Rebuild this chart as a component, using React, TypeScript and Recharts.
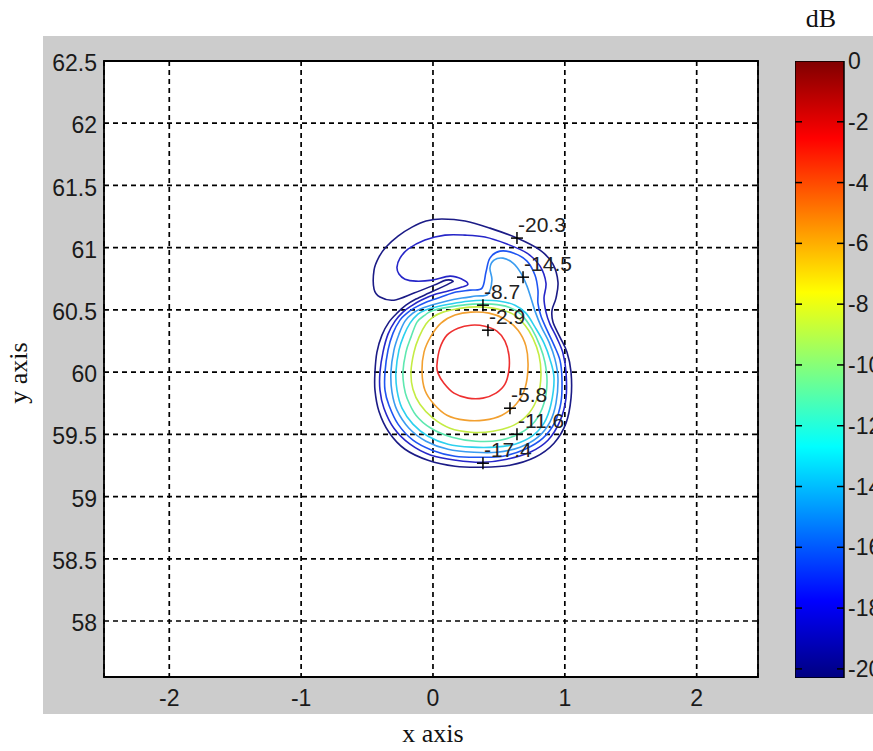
import React from 'react';
import {
  ComposedChart,
  Line,
  Scatter,
  XAxis,
  YAxis,
  CartesianGrid,
  ReferenceArea,
  BarChart,
  Bar,
} from 'recharts';

// ---------- axes ----------
const X_DOMAIN: [number, number] = [-2.495, 2.465];
const Y_DOMAIN: [number, number] = [57.55, 62.5];
const xTicks = [-2, -1, 0, 1, 2];
const yTicks = [58, 58.5, 59, 59.5, 60, 60.5, 61, 61.5, 62, 62.5];

// ---------- colour bar ----------
const CB_MIN = -20.3;
const cbTicks = [0, -2, -4, -6, -8, -10, -12, -14, -16, -18, -20];
const cbData = [{ name: 'dB', v: CB_MIN }];

// ---------- contour lines (x, y) ----------
const contourNavy: [number, number][] = [
  [-0.44, 60.0], [-0.44, 59.855], [-0.41, 59.686], [-0.334, 59.517], [-0.212, 59.38],
  [-0.038, 59.292], [0.167, 59.244], [0.379, 59.236], [0.584, 59.252], [0.774, 59.316],
  [0.918, 59.429], [1.009, 59.59], [1.047, 59.791], [1.047, 60.0], [1.016, 60.161],
  [0.963, 60.281], [0.91, 60.402], [0.903, 60.498], [0.933, 60.595], [0.948, 60.723],
  [0.91, 60.868], [0.812, 60.98], [0.637, 61.077], [0.432, 61.157], [0.243, 61.214],
  [0.068, 61.23], [-0.053, 61.214], [-0.159, 61.165], [-0.265, 61.093], [-0.356, 61.005],
  [-0.41, 60.924], [-0.447, 60.82], [-0.447, 60.667], [-0.402, 60.603], [-0.296, 60.578],
  [-0.144, 60.635], [0.008, 60.699], [0.099, 60.739], [0.152, 60.731], [0.129, 60.715],
  [0.068, 60.683], [-0.03, 60.635], [-0.129, 60.587], [-0.205, 60.538], [-0.265, 60.482],
  [-0.334, 60.402], [-0.387, 60.297], [-0.425, 60.161],
];
const contourDarkBlue: [number, number][] = [
  [0.265, 60.707], [0.22, 60.683], [0.144, 60.659], [0.023, 60.627], [-0.091, 60.578],
  [-0.167, 60.53], [-0.228, 60.482], [-0.288, 60.41], [-0.341, 60.305], [-0.379, 60.161],
  [-0.402, 60.0], [-0.402, 59.855], [-0.372, 59.71], [-0.296, 59.549], [-0.174, 59.421],
  [-0.015, 59.332], [0.174, 59.292], [0.379, 59.276], [0.561, 59.3], [0.736, 59.356],
  [0.872, 59.453], [0.963, 59.606], [1.009, 59.791], [1.009, 60.0], [0.986, 60.152],
  [0.94, 60.273], [0.887, 60.386], [0.857, 60.482], [0.842, 60.595], [0.857, 60.715],
  [0.812, 60.852], [0.713, 60.956], [0.561, 61.029], [0.394, 61.085], [0.243, 61.101],
  [0.091, 61.101], [-0.061, 61.061], [-0.19, 60.988], [-0.25, 60.916], [-0.273, 60.844],
  [-0.258, 60.788], [-0.212, 60.747], [-0.129, 60.731], [-0.008, 60.739], [0.129, 60.771],
  [0.22, 60.747],
];
const contourBlue: [number, number][] = [
  [-0.364, 60.0], [-0.341, 60.177], [-0.303, 60.313], [-0.25, 60.418], [-0.197, 60.474],
  [-0.144, 60.514], [-0.053, 60.562], [0.061, 60.603], [0.174, 60.643], [0.281, 60.659],
  [0.372, 60.675], [0.402, 60.804], [0.432, 60.916], [0.508, 60.972], [0.614, 60.956],
  [0.713, 60.892], [0.774, 60.779], [0.796, 60.659], [0.796, 60.554], [0.819, 60.45],
  [0.865, 60.337], [0.918, 60.217], [0.963, 60.096], [0.978, 59.951], [0.971, 59.758],
  [0.925, 59.598], [0.834, 59.469], [0.698, 59.38], [0.531, 59.324], [0.356, 59.316],
  [0.167, 59.324], [-0.008, 59.373], [-0.152, 59.453], [-0.265, 59.582], [-0.334, 59.734],
  [-0.364, 59.855],
];
const contourSky: [number, number][] = [
  [-0.319, 60.0], [-0.296, 60.177], [-0.258, 60.305], [-0.212, 60.41], [-0.152, 60.474],
  [-0.099, 60.506], [-0.015, 60.538], [0.099, 60.57], [0.22, 60.595], [0.326, 60.611],
  [0.417, 60.627], [0.447, 60.739], [0.432, 60.836], [0.463, 60.9], [0.531, 60.916],
  [0.607, 60.876], [0.667, 60.796], [0.713, 60.691], [0.743, 60.595], [0.774, 60.49],
  [0.819, 60.369], [0.88, 60.241], [0.925, 60.104], [0.948, 59.951], [0.933, 59.75],
  [0.887, 59.598], [0.796, 59.477], [0.66, 59.397], [0.485, 59.356], [0.311, 59.356],
  [0.114, 59.38], [-0.053, 59.445], [-0.182, 59.549], [-0.273, 59.694], [-0.311, 59.839],
];
const contourCyan: [number, number][] = [
  [-0.281, 60.0], [-0.258, 60.177], [-0.22, 60.297], [-0.174, 60.394], [-0.114, 60.466],
  [-0.061, 60.498], [0.03, 60.526], [0.144, 60.55], [0.265, 60.57], [0.379, 60.578],
  [0.508, 60.57], [0.622, 60.538], [0.705, 60.474], [0.774, 60.361], [0.842, 60.233],
  [0.887, 60.104], [0.918, 59.951], [0.895, 59.742], [0.842, 59.59], [0.751, 59.485],
  [0.622, 59.421], [0.47, 59.397], [0.296, 59.397], [0.114, 59.421], [-0.038, 59.485],
  [-0.152, 59.582], [-0.235, 59.71], [-0.273, 59.855],
];
const contourAqua: [number, number][] = [
  [-0.228, 60.0], [-0.205, 60.161], [-0.167, 60.281], [-0.121, 60.402], [-0.061, 60.458],
  [-0.015, 60.49], [0.076, 60.514], [0.19, 60.534], [0.303, 60.546], [0.447, 60.546],
  [0.576, 60.522], [0.667, 60.466], [0.751, 60.345], [0.812, 60.209], [0.849, 60.08],
  [0.865, 59.919], [0.842, 59.75], [0.774, 59.606], [0.66, 59.509], [0.508, 59.453],
  [0.326, 59.445], [0.144, 59.477], [-0.015, 59.549], [-0.129, 59.654], [-0.197, 59.791],
  [-0.22, 59.887],
];
const contourYellow: [number, number][] = [
  [-0.167, 60.0], [-0.144, 60.161], [-0.106, 60.281], [-0.053, 60.386], [0.0, 60.442],
  [0.076, 60.482], [0.174, 60.506], [0.281, 60.522], [0.387, 60.522], [0.493, 60.506],
  [0.607, 60.466], [0.698, 60.377], [0.758, 60.273], [0.804, 60.136], [0.819, 59.976],
  [0.796, 59.807], [0.728, 59.67], [0.614, 59.574], [0.455, 59.525], [0.288, 59.517],
  [0.129, 59.549], [0.0, 59.63], [-0.099, 59.742], [-0.152, 59.863],
];
const contourOrange: [number, number][] = [
  [-0.083, 60.0], [-0.068, 60.161], [-0.015, 60.289], [0.061, 60.394], [0.167, 60.458],
  [0.288, 60.482], [0.425, 60.474], [0.546, 60.426], [0.645, 60.337], [0.705, 60.209],
  [0.721, 60.048], [0.698, 59.871], [0.63, 59.742], [0.523, 59.654], [0.387, 59.614],
  [0.243, 59.614], [0.106, 59.654], [0.008, 59.742], [-0.061, 59.855],
];
const contourRed: [number, number][] = [
  [0.03, 60.056], [0.053, 60.193], [0.106, 60.297], [0.19, 60.353], [0.288, 60.377],
  [0.394, 60.369], [0.485, 60.329], [0.546, 60.249], [0.576, 60.136], [0.576, 60.016],
  [0.546, 59.903], [0.478, 59.831], [0.379, 59.791], [0.265, 59.791], [0.159, 59.831],
  [0.083, 59.911], [0.038, 59.992],
];

// contour label markers
const labelX = [0.637, 0.683, 0.379, 0.417, 0.584, 0.637, 0.379];
const labelY = [61.077, 60.763, 60.538, 60.337, 59.71, 59.501, 59.268];
const labelText = ['-20.3', '-14.5', '-8.7', '-2.9', '-5.8', '-11.6', '-17.4'];

const contourColors = ['#1b1b86', '#2626c8', '#1f55f2', '#3a9cf0', '#2cd0ee', '#5ee8b0', '#c4ec44', '#f2a030', '#ee3030'];
const contourSets = [contourNavy, contourDarkBlue, contourBlue, contourSky, contourCyan, contourAqua, contourYellow, contourOrange, contourRed];

const contours = contourSets.map((pts, i) => ({
  key: `c${i}`,
  color: contourColors[i],
  data: pts.map(([x, y]) => ({ x, y })),
}));
const markers = labelX.map((x, i) => ({ x, y: labelY[i], label: labelText[i] }));

// closed smooth curve (Catmull-Rom through the points)
const closedSmooth = (context: any) => {
  let pts: number[][] = [];
  return {
    areaStart() {},
    areaEnd() {},
    lineStart() {
      pts = [];
    },
    point(x: number, y: number) {
      pts.push([+x, +y]);
    },
    lineEnd() {
      const n = pts.length;
      if (!n) return;
      context.moveTo(pts[0][0], pts[0][1]);
      if (n < 3) {
        for (let i = 1; i < n; i++) context.lineTo(pts[i][0], pts[i][1]);
        return;
      }
      for (let i = 0; i < n; i++) {
        const p0 = pts[(i - 1 + n) % n];
        const p1 = pts[i];
        const p2 = pts[(i + 1) % n];
        const p3 = pts[(i + 2) % n];
        context.bezierCurveTo(
          p1[0] + (p2[0] - p0[0]) / 6,
          p1[1] + (p2[1] - p0[1]) / 6,
          p2[0] - (p3[0] - p1[0]) / 6,
          p2[1] - (p3[1] - p1[1]) / 6,
          p2[0],
          p2[1]
        );
      }
      context.closePath();
    },
  };
};

const SANS = '"Liberation Sans", Arial, Helvetica, sans-serif';
const SERIF = '"Liberation Serif", "Times New Roman", serif';
const TEXT = '#1a1a1a';

const PlusLabel = (props: any) => {
  const { cx, cy } = props;
  const label = props.payload?.label ?? props.label;
  if (cx == null || cy == null) return null;
  return (
    <g>
      <line x1={cx - 6} x2={cx + 6} y1={cy} y2={cy} stroke="#000" strokeWidth={1.5} />
      <line x1={cx} x2={cx} y1={cy - 6} y2={cy + 6} stroke="#000" strokeWidth={1.5} />
      <text x={cx + 1} y={cy - 6} fontSize={21} fontFamily={SANS} fill="#222">
        {label}
      </text>
    </g>
  );
};

const CB_WIDTH = 49;
const CB_MARGIN = 4;
const CbTick = (props: any) => {
  const { x, y, payload } = props;
  const right = x - CB_MARGIN;
  const left = right - CB_WIDTH;
  return (
    <g>
      {payload.value !== 0 && (
        <>
          <line x1={left} x2={left + 7} y1={y} y2={y} stroke="#000" strokeWidth={1.5} />
          <line x1={right - 7} x2={right} y1={y} y2={y} stroke="#000" strokeWidth={1.5} />
        </>
      )}
      <text x={x} y={y} dy={8} fontSize={23} fontFamily={SANS} fill={TEXT} textAnchor="start">
        {payload.value}
      </text>
    </g>
  );
};

export default function App() {
  return (
    <div style={{ position: 'absolute', left: 0, top: 0, width: 873, height: 751, background: '#fff', overflow: 'hidden' }}>
      <div style={{ position: 'absolute', left: 43, top: 36, width: 830, height: 678, background: '#cccccc' }} />
      <div style={{ position: 'absolute', left: 0, top: 0 }}>
        <ComposedChart width={873} height={751} margin={{ top: 61, right: 115, bottom: 44, left: 44 }}>
          <CartesianGrid stroke="#000" strokeWidth={1.7} strokeDasharray="5 4" fill="#fff" fillOpacity={1} />
          <XAxis
            type="number"
            dataKey="x"
            domain={X_DOMAIN}
            ticks={xTicks}
            allowDataOverflow
            interval={0}
            axisLine={false}
            tickLine={false}
            tickSize={0}
            tickMargin={13}
            height={30}
            tick={{ fontSize: 23, fill: TEXT, fontFamily: SANS }}
          />
          <YAxis
            type="number"
            dataKey="y"
            domain={Y_DOMAIN}
            ticks={yTicks}
            allowDataOverflow
            interval={0}
            axisLine={false}
            tickLine={false}
            tickSize={0}
            tickMargin={7}
            width={60}
            tick={{ fontSize: 23, fill: TEXT, fontFamily: SANS, dy: 2 }}
          />
          {contours.map((c) => (
            <Line
              key={c.key}
              data={c.data}
              dataKey="y"
              type={closedSmooth as any}
              stroke={c.color}
              strokeWidth={1.6}
              dot={false}
              activeDot={false}
              isAnimationActive={false}
              legendType="none"
            />
          ))}
          <Scatter data={markers} dataKey="y" shape={<PlusLabel />} isAnimationActive={false} />
          <ReferenceArea
            x1={X_DOMAIN[0]}
            x2={X_DOMAIN[1]}
            y1={Y_DOMAIN[0]}
            y2={Y_DOMAIN[1]}
            fill="none"
            stroke="#000"
            strokeWidth={1.8}
            ifOverflow="visible"
          />
        </ComposedChart>
      </div>
      <div style={{ position: 'absolute', left: 795, top: 0 }}>
        <BarChart
          width={78}
          height={751}
          data={cbData}
          margin={{ top: 61, right: 0, bottom: 73, left: 0 }}
          barCategoryGap={0}
        >
          <defs>
            <linearGradient id="jetGrad" x1="0" y1="0" x2="0" y2="1">
              <stop offset="0%" stopColor="#800000" />
              <stop offset="12.5%" stopColor="#ff0000" />
              <stop offset="37.5%" stopColor="#ffff00" />
              <stop offset="62.5%" stopColor="#00ffff" />
              <stop offset="87.5%" stopColor="#0000ff" />
              <stop offset="100%" stopColor="#000080" />
            </linearGradient>
          </defs>
          <XAxis dataKey="name" hide />
          <YAxis
            orientation="right"
            type="number"
            domain={[CB_MIN, 0]}
            ticks={cbTicks}
            allowDataOverflow
            interval={0}
            width={29}
            axisLine={false}
            tickLine={false}
            tickSize={0}
            tickMargin={CB_MARGIN}
            tick={(p: any) => <CbTick {...p} />}
          />
          <Bar dataKey="v" fill="url(#jetGrad)" stroke="#000" strokeWidth={1.5} isAnimationActive={false} />
        </BarChart>
      </div>
      <svg width={873} height={751} style={{ position: 'absolute', left: 0, top: 0, pointerEvents: 'none' }}>
        <text x={821} y={27} fontSize={26} fontFamily={SERIF} fill="#111" textAnchor="middle">
          dB
        </text>
        <text x={433} y={742} fontSize={26} fontFamily={SERIF} fill="#111" textAnchor="middle">
          x axis
        </text>
        <text
          x={27}
          y={373}
          fontSize={26}
          fontFamily={SERIF}
          fill="#111"
          textAnchor="middle"
          transform="rotate(-90 27 373)"
        >
          y axis
        </text>
      </svg>
    </div>
  );
}
